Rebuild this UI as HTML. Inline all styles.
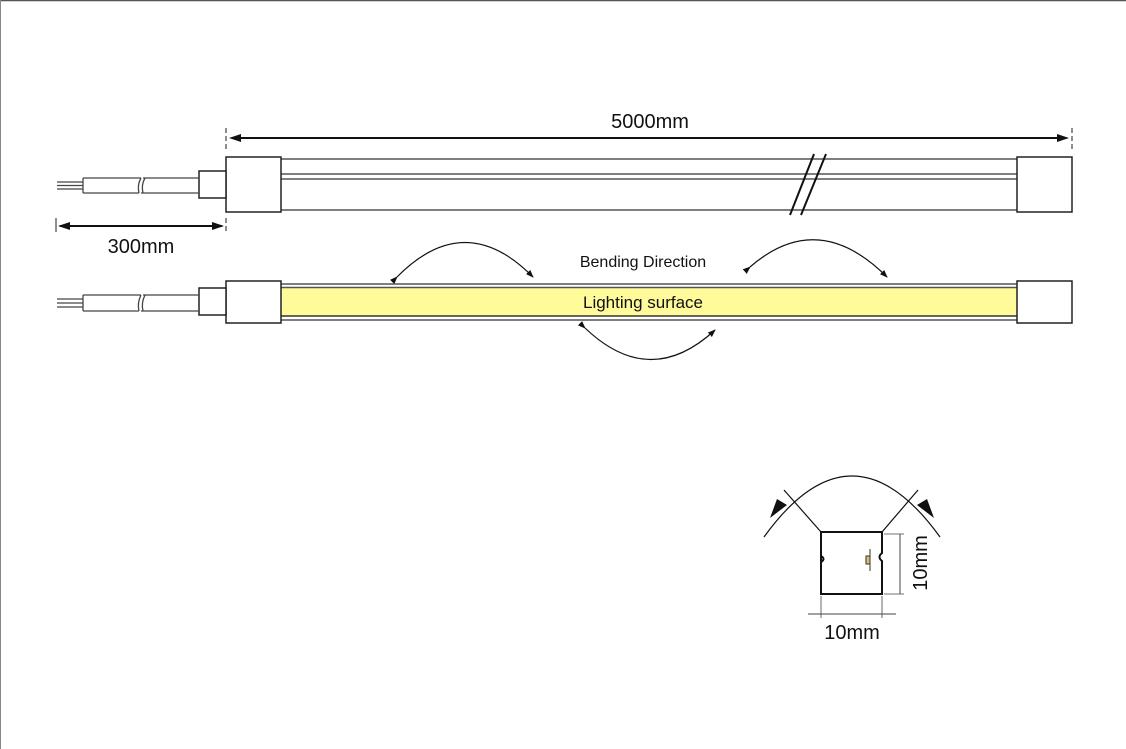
<!DOCTYPE html>
<html><head><meta charset="utf-8"><style>
html,body{margin:0;padding:0;background:#fff;}
svg{display:block;}
text{font-family:"Liberation Sans","DejaVu Sans",sans-serif;fill:#111;}
</style></head><body>
<svg width="1126" height="749" viewBox="0 0 1126 749" xmlns="http://www.w3.org/2000/svg">
<defs>
<marker id="as" markerWidth="8" markerHeight="6" refX="7" refY="3" orient="auto" markerUnits="userSpaceOnUse"><path d="M0,0 L8,3 L0,6 Z" fill="#111"/></marker>
</defs>
<line x1="0" y1="0.5" x2="1126" y2="0.5" stroke="#555" stroke-width="1.5"/>
<line x1="0.5" y1="0" x2="0.5" y2="749" stroke="#888" stroke-width="1"/>

<!-- 5000mm dim -->
<line x1="226" y1="128" x2="226" y2="150" stroke="#444" stroke-width="1.2" stroke-dasharray="5,3"/>
<line x1="1072" y1="128" x2="1072" y2="150" stroke="#444" stroke-width="1.2" stroke-dasharray="5,3"/>
<line x1="232" y1="138" x2="1066" y2="138" stroke="#111" stroke-width="2"/>
<path d="M229,138 L241,134 L241,142 Z M1069,138 L1057,134 L1057,142 Z" fill="#111"/>
<text x="650" y="128" font-size="20" text-anchor="middle">5000mm</text>

<!-- top strip -->
<g stroke="#555" stroke-width="1.5" fill="none">
<line x1="281" y1="159" x2="1017" y2="159"/>
<line x1="281" y1="174" x2="1017" y2="174"/>
<line x1="281" y1="179" x2="1017" y2="179"/>
<line x1="281" y1="210" x2="1017" y2="210"/>
</g>
<line x1="790" y1="215" x2="814" y2="154" stroke="#111" stroke-width="2"/>
<line x1="801" y1="215" x2="826" y2="154" stroke="#111" stroke-width="2"/>
<rect x="226" y="157" width="55" height="55" fill="#fff" stroke="#222" stroke-width="1.5"/>
<rect x="1017" y="157" width="55" height="55" fill="#fff" stroke="#222" stroke-width="1.5"/>
<rect x="199" y="171" width="27" height="27" fill="#fff" stroke="#222" stroke-width="1.5"/>
<g stroke="#444" stroke-width="1.3" fill="none">
<line x1="83" y1="178" x2="141" y2="178"/><line x1="83" y1="193" x2="139" y2="193"/>
<line x1="143" y1="178" x2="199" y2="178"/><line x1="141" y1="193" x2="199" y2="193"/>
<path d="M141,178 q-4,7 -2,15 M145,178 q-4,7 -2,15"/>
<line x1="83" y1="178" x2="83" y2="193"/>
<line x1="57" y1="182" x2="83" y2="182"/><line x1="57" y1="185.5" x2="83" y2="185.5"/><line x1="57" y1="189" x2="83" y2="189"/>
</g>

<!-- 300mm dim -->
<line x1="56" y1="218" x2="56" y2="232" stroke="#444" stroke-width="1.2"/>
<line x1="226" y1="218" x2="226" y2="234" stroke="#444" stroke-width="1.2" stroke-dasharray="5,3"/>
<line x1="60" y1="226" x2="222" y2="226" stroke="#111" stroke-width="2"/>
<path d="M58,226 L70,222 L70,230 Z M224,226 L212,222 L212,230 Z" fill="#111"/>
<text x="141" y="253" font-size="20" text-anchor="middle">300mm</text>

<!-- bottom strip -->
<rect x="281" y="287" width="736" height="29" fill="#FFFB9A"/>
<g stroke="#555" stroke-width="1.5" fill="none">
<line x1="281" y1="284" x2="1017" y2="284"/>
<line x1="281" y1="287.5" x2="1017" y2="287.5"/>
<line x1="281" y1="316" x2="1017" y2="316" stroke="#333"/>
<line x1="281" y1="320" x2="1017" y2="320"/>
</g>
<rect x="226" y="281" width="55" height="42" fill="#fff" stroke="#222" stroke-width="1.5"/>
<rect x="1017" y="281" width="55" height="42" fill="#fff" stroke="#222" stroke-width="1.5"/>
<rect x="199" y="288" width="27" height="27" fill="#fff" stroke="#222" stroke-width="1.5"/>
<g stroke="#444" stroke-width="1.3" fill="none">
<line x1="83" y1="295" x2="141" y2="295"/><line x1="83" y1="311" x2="139" y2="311"/>
<line x1="143" y1="295" x2="199" y2="295"/><line x1="141" y1="311" x2="199" y2="311"/>
<path d="M141,295 q-4,8 -2,16 M145,295 q-4,8 -2,16"/>
<line x1="83" y1="295" x2="83" y2="311"/>
<line x1="57" y1="299" x2="83" y2="299"/><line x1="57" y1="303" x2="83" y2="303"/><line x1="57" y1="307" x2="83" y2="307"/>
</g>
<text x="643" y="308" font-size="17" text-anchor="middle">Lighting surface</text>
<text x="643" y="267" font-size="16" text-anchor="middle">Bending Direction</text>

<!-- bend arcs -->
<g stroke="#111" stroke-width="1.2" fill="none">
<path d="M397,277 Q465,208 533,277" marker-start="url(#as)" marker-end="url(#as)"/>
<path d="M750,267 Q818,208 887,277" marker-start="url(#as)" marker-end="url(#as)"/>
<path d="M585,328 Q650,390 715,330" marker-start="url(#as)" marker-end="url(#as)"/>
</g>

<!-- cross section -->
<g stroke="#111" stroke-width="1.2" fill="none">
<path d="M764,537 Q852,415 940,537"/>
<line x1="821" y1="532" x2="784" y2="490"/>
<line x1="882" y1="532" x2="918" y2="490"/>
</g>
<path d="M770,518 L787,505 L777,499 Z" fill="#111"/>
<path d="M934,518 L917,505 L927,499 Z" fill="#111"/>
<path d="M821,532 L882,532 L882,553 Q877,557 882,561 L882,594 L821,594 L821,556 Q826,559 821,562 Z" fill="#fff" stroke="#111" stroke-width="2"/>
<path d="M870,549 L870,571 M870,556 h-4 v8 h4" stroke="#333" stroke-width="1" fill="#d8c070"/>
<line x1="900" y1="534" x2="900" y2="594" stroke="#444" stroke-width="1"/>
<line x1="884" y1="534" x2="904" y2="534" stroke="#444" stroke-width="0.8"/>
<line x1="884" y1="594" x2="904" y2="594" stroke="#444" stroke-width="0.8"/>
<text x="927" y="563" font-size="20" text-anchor="middle" transform="rotate(-90 927 563)">10mm</text>
<line x1="808" y1="614" x2="896" y2="614" stroke="#444" stroke-width="1"/>
<line x1="821" y1="596" x2="821" y2="618" stroke="#444" stroke-width="0.8"/>
<line x1="882" y1="596" x2="882" y2="618" stroke="#444" stroke-width="0.8"/>
<text x="852" y="639" font-size="20" text-anchor="middle">10mm</text>
</svg>
</body></html>
